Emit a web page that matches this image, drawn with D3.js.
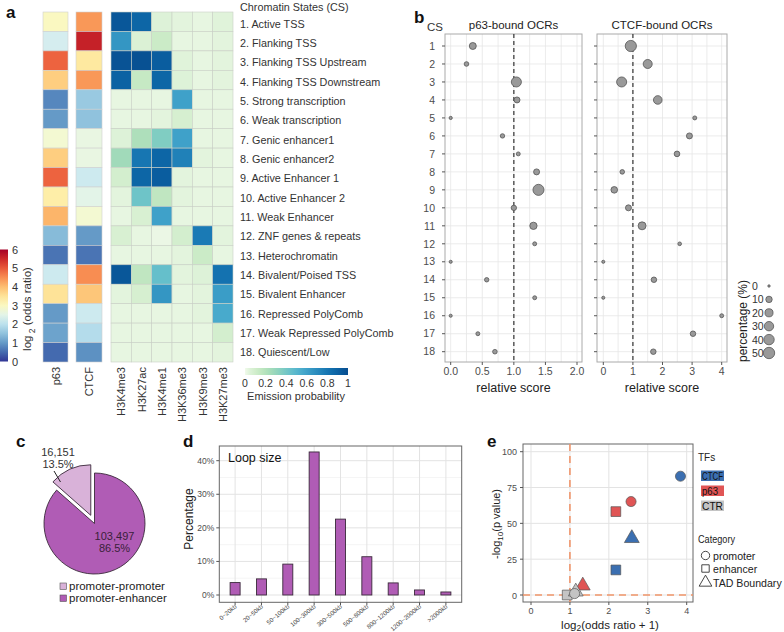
<!DOCTYPE html>
<html><head><meta charset="utf-8">
<script src="https://cdn.jsdelivr.net/npm/d3@7"></script>
<style>body{margin:0;background:#fff;} svg{font-family:"Liberation Sans",Arial,sans-serif;}</style>
</head><body><svg id="c" width="784" height="632"></svg>
<script>
// ---------- DATA ----------
// Panel a
const states = ["1. Active TSS","2. Flanking TSS","3. Flanking TSS Upstream","4. Flanking TSS Downstream",
 "5. Strong transcription","6. Weak transcription","7. Genic enhancer1","8. Genic enhancer2",
 "9. Active Enhancer 1","10. Active Enhancer 2","11. Weak Enhancer","12. ZNF genes & repeats",
 "13. Heterochromatin","14. Bivalent/Poised TSS","15. Bivalent Enhancer","16. Repressed PolyComb",
 "17. Weak Repressed PolyComb","18. Quiescent/Low"];
const oddsColumns = ["p63","CTCF"];
const p63Odds  = [3.0,2.3,4.9,3.8,0.8,1.0,2.8,3.8,4.9,3.3,4.1,1.4,0.6,2.2,3.5,1.0,1.1,0.5];
const ctcfOdds = [4.4,5.6,3.4,4.4,1.6,1.5,2.6,2.6,2.2,2.5,2.8,1.0,0.6,4.5,3.9,2.2,1.9,0.9];
const marks = ["H3K4me3","H3K27ac","H3K4me1","H3K36me3","H3K9me3","H3K27me3"];
const emission = [
 [0.95,0.88,0.05,0.03,0.02,0.04],
 [0.65,0.06,0.12,0.02,0.02,0.03],
 [0.97,0.98,0.92,0.04,0.02,0.03],
 [0.90,0.14,0.88,0.05,0.02,0.03],
 [0.02,0.02,0.02,0.60,0.02,0.02],
 [0.02,0.02,0.03,0.08,0.02,0.02],
 [0.05,0.22,0.36,0.60,0.02,0.02],
 [0.26,0.80,0.88,0.75,0.03,0.02],
 [0.09,0.88,0.92,0.03,0.02,0.02],
 [0.03,0.42,0.16,0.03,0.02,0.02],
 [0.02,0.07,0.60,0.02,0.02,0.02],
 [0.07,0.02,0.01,0.09,0.78,0.03],
 [0.02,0.02,0.02,0.03,0.12,0.02],
 [0.95,0.16,0.45,0.03,0.05,0.82],
 [0.03,0.08,0.65,0.02,0.03,0.62],
 [0.02,0.02,0.02,0.02,0.03,0.56],
 [0.02,0.02,0.02,0.02,0.02,0.09],
 [0.02,0.02,0.02,0.02,0.02,0.03]];
const oddsTicks = [0,1,2,3,4,5,6];
const emissionTicks = [0,0.2,0.4,0.6,0.8,1];

// Panel b
const csRows = d3.range(1,19);
const p63Score = [0.35,0.25,1.04,1.05,0.0,0.82,1.07,1.36,1.39,1.0,1.31,1.33,0.0,0.57,1.33,0.0,0.43,0.70];
const p63Pct   = [13,3,36,8,0.4,2.5,1.5,8,46,5.5,15,1.5,0.3,2.5,1.5,0.3,1.5,3];
const ctcfScore = [0.93,1.5,0.62,1.84,3.09,2.91,2.49,0.64,0.37,0.85,1.31,2.58,0.0,1.71,0.0,4.0,3.03,1.69];
const ctcfPct   = [48,27,36,24,1.6,8,6.5,3,11,8,19,1,0.3,6,0.3,1.5,6,6];
const p63Ticks = [0,0.5,1,1.5,2];
const ctcfTicks = [0,1,2,3,4];
const pctTicks = [0,10,20,30,40,50];

// Panel c
const loopTypes = ["promoter-promoter","promoter-enhancer"];
const loopCounts = [16151,103497];
const loopPctLabels = ["13.5%","86.5%"];

// Panel d
const sizeBins = ["0~20kb","20~50kb","50~100kb","100~300kb","300~500kb","500~800kb","800~1200kb","1200~2000kb",">2000kb"];
const sizePct = [3.7,4.8,9.2,42.6,22.6,11.4,3.6,1.5,0.9];
const pctAxisTicks = [0,10,20,30,40];

// Panel e
const tfNames = ["CTCF","p63","CTR"];
const catNames = ["promoter","enhancer","TAD Boundary"];
const enrTF  = ["CTCF","p63","p63","CTCF","CTCF","p63","CTR","CTR","CTR"];
const enrCat = ["promoter","promoter","enhancer","TAD Boundary","enhancer","TAD Boundary","enhancer","TAD Boundary","promoter"];
const enrX   = [3.84,2.57,2.18,2.59,2.18,1.33,0.93,1.15,1.12];
const enrY   = [82.9,65.2,58.2,39.6,17.5,6.5,0.0,2.3,1.0];
const eXTicks = [0,1,2,3,4];
const eYTicks = [0,25,50,75,100];

// ---------- DRAW ----------
const svg = d3.select("#c");
const defs = svg.append("defs");
function panelLabel(t,x,y){svg.append("text").attr("x",x).attr("y",y).attr("font-size",17).attr("font-weight","bold").attr("fill","#111").text(t);}

// ===== Panel a =====
panelLabel("a",6,18);
const rowY = d3.scaleBand().domain(d3.range(18)).range([12,362]);
const oddsColor = d3.scaleSequential(t=>d3.interpolateRdYlBu(1-t)).domain([0,6]);
const emisColor = d3.scaleSequentialPow(t=>d3.interpolateGnBu(0.03+0.93*t)).exponent(0.7).domain([0,1]);
const oddsX = d3.scaleOrdinal().domain(oddsColumns).range([[43,68],[76,102]]);
const oddsData = [p63Odds, ctcfOdds];
const ga = svg.append("g");
oddsColumns.forEach((col,ci)=>{
  const [x0,x1] = oddsX(col);
  ga.selectAll(null).data(oddsData[ci]).enter().append("rect")
    .attr("x",x0).attr("width",x1-x0)
    .attr("y",(d,i)=>rowY(i)).attr("height",rowY.bandwidth())
    .attr("fill",d=>oddsColor(d)).attr("stroke","#d0d0d0").attr("stroke-width",0.6);
  ga.append("text").attr("transform",`translate(${(x0+x1)/2+4},367) rotate(-90)`)
    .attr("text-anchor","end").attr("font-size",11).attr("fill","#333").text(col);
});
const emX = d3.scaleBand().domain(marks).range([111,233]);
emission.forEach((row,ri)=>{
  ga.selectAll(null).data(row).enter().append("rect")
    .attr("x",(d,i)=>emX(marks[i])).attr("width",emX.bandwidth())
    .attr("y",rowY(ri)).attr("height",rowY.bandwidth())
    .attr("fill",d=>emisColor(d)).attr("stroke","#c9cfc6").attr("stroke-width",0.6);
});
marks.forEach(m=>{
  ga.append("text").attr("transform",`translate(${emX(m)+emX.bandwidth()/2+4},367) rotate(-90)`)
    .attr("text-anchor","end").attr("font-size",11).attr("fill","#333").text(m);
});
const labY = d3.scaleLinear().domain([0,17]).range([24,352.5]);
ga.append("text").attr("x",240).attr("y",10.5).attr("font-size",10.8).attr("fill","#333").text("Chromatin States (CS)");
ga.selectAll(null).data(states).enter().append("text")
  .attr("x",240).attr("y",(d,i)=>labY(i)+3.8).attr("font-size",10.8).attr("fill","#333").text(d=>d);
const gOdds = defs.append("linearGradient").attr("id","gOdds").attr("x1",0).attr("y1",1).attr("x2",0).attr("y2",0);
d3.range(0,6.01,0.5).forEach(v=>gOdds.append("stop").attr("offset",v/6).attr("stop-color",oddsColor(v)));
const oddsBarY = d3.scaleLinear().domain([0,6]).range([361.5,249.5]);
ga.append("rect").attr("x",0).attr("y",oddsBarY(6)).attr("width",8).attr("height",oddsBarY(0)-oddsBarY(6)).attr("fill","url(#gOdds)");
ga.selectAll(null).data(oddsTicks).enter().append("text").attr("x",12).attr("y",d=>oddsBarY(d)+4)
  .attr("font-size",11).attr("fill","#333").text(d=>d);
const lt = ga.append("text").attr("transform","translate(31,309) rotate(-90)").attr("text-anchor","middle").attr("font-size",11.5).attr("fill","#333");
lt.append("tspan").text("log");
lt.append("tspan").attr("font-size",8.5).attr("dy",4).text(" 2");
lt.append("tspan").attr("dy",-4).text(" (odds ratio)");
const gEm = defs.append("linearGradient").attr("id","gEm");
d3.range(0,1.001,0.05).forEach(v=>gEm.append("stop").attr("offset",v).attr("stop-color",emisColor(v)));
const emBarX = d3.scaleLinear().domain([0,1]).range([245,348]);
ga.append("rect").attr("x",emBarX(0)).attr("y",368).attr("width",emBarX(1)-emBarX(0)).attr("height",7).attr("fill","url(#gEm)");
ga.selectAll(null).data(emissionTicks).enter().append("text").attr("x",d=>emBarX(d)).attr("y",387)
  .attr("text-anchor","middle").attr("font-size",10.5).attr("fill","#333").text(d=>d);
ga.append("text").attr("x",296).attr("y",400).attr("text-anchor","middle").attr("font-size",11).attr("fill","#333").text("Emission probability");

// ===== Panel b =====
svg.append("text").attr("x",414).attr("y",23).attr("font-size",17).attr("font-weight","bold").attr("fill","#111").text("b");
svg.append("text").attr("x",427).attr("y",31).attr("font-size",11.5).attr("fill","#333").text("CS");
const bTop=34, bBot=362;
const yB = d3.scaleLinear().domain([1,18]).range([46,351.7]);
const rB = d3.scaleSqrt().domain([0,50]).range([1.2,5.7]);
const facets = [
 {title:"p63-bound OCRs", x0:445, x1:582, x:d3.scaleLinear().domain([0,2]).range([450.7,577]), ticks:p63Ticks, step:0.25, fmt:d3.format(".1f"), score:p63Score, pct:p63Pct},
 {title:"CTCF-bound OCRs", x0:597, x1:727, x:d3.scaleLinear().domain([0,4]).range([603.3,721.7]), ticks:ctcfTicks, step:0.5, fmt:d3.format("d"), score:ctcfScore, pct:ctcfPct}
];
facets.forEach(f=>{
  const g = svg.append("g");
  g.append("rect").attr("x",f.x0).attr("y",bTop).attr("width",f.x1-f.x0).attr("height",bBot-bTop).attr("fill","#fff");
  const xmax = f.x.domain()[1];
  g.selectAll(null).data(d3.range(0,xmax+1e-9,f.step)).enter().append("line")
    .attr("x1",d=>f.x(d)).attr("x2",d=>f.x(d)).attr("y1",bTop).attr("y2",bBot).attr("stroke","#e6e6e6").attr("stroke-width",0.8);
  g.selectAll(null).data(csRows).enter().append("line")
    .attr("x1",f.x0).attr("x2",f.x1).attr("y1",d=>yB(d)).attr("y2",d=>yB(d)).attr("stroke","#e6e6e6").attr("stroke-width",0.8);
  g.append("rect").attr("x",f.x0).attr("y",bTop).attr("width",f.x1-f.x0).attr("height",bBot-bTop).attr("fill","none").attr("stroke","#aaa").attr("stroke-width",1);
  g.append("line").attr("x1",f.x(1)).attr("x2",f.x(1)).attr("y1",bTop).attr("y2",bBot).attr("stroke","#333").attr("stroke-width",1.2).attr("stroke-dasharray","4,3");
  const pts = csRows.map((r,i)=>({r, s:f.score[i], p:f.pct[i]})).sort((a,b)=>b.p-a.p);
  g.selectAll(null).data(pts).enter().append("circle")
    .attr("cx",d=>f.x(d.s)).attr("cy",d=>yB(d.r)).attr("r",d=>rB(d.p))
    .attr("fill","#999").attr("stroke","#555").attr("stroke-width",0.8);
  g.selectAll(null).data(csRows).enter().append("line")
    .attr("x1",f.x0-3).attr("x2",f.x0).attr("y1",d=>yB(d)).attr("y2",d=>yB(d)).attr("stroke","#555");
  g.selectAll(null).data(f.ticks).enter().append("line")
    .attr("x1",d=>f.x(d)).attr("x2",d=>f.x(d)).attr("y1",bBot).attr("y2",bBot+3).attr("stroke","#555");
  g.selectAll(null).data(f.ticks).enter().append("text").attr("x",d=>f.x(d)).attr("y",375)
    .attr("text-anchor","middle").attr("font-size",10.5).attr("fill","#4d4d4d").text(d=>f.fmt(d));
  g.append("text").attr("x",(f.x0+f.x1)/2).attr("y",29).attr("text-anchor","middle").attr("font-size",11.5).attr("fill","#222").text(f.title);
  g.append("text").attr("x",(f.x0+f.x1)/2).attr("y",392).attr("text-anchor","middle").attr("font-size",12.5).attr("fill","#222").text("relative score");
});
svg.selectAll(null).data(csRows).enter().append("text").attr("x",435).attr("y",d=>yB(d)+3.7)
  .attr("text-anchor","end").attr("font-size",10.5).attr("fill","#4d4d4d").text(d=>d);
const legY = d3.scaleLinear().domain([0,50]).range([286,353]);
svg.append("text").attr("transform","translate(747,321) rotate(-90)").attr("text-anchor","middle").attr("font-size",12).attr("fill","#222").text("percentage (%)");
svg.selectAll(null).data(pctTicks).enter().append("text").attr("x",752).attr("y",d=>legY(d)+4)
  .attr("font-size",10.5).attr("fill","#333").text(d=>d);
svg.selectAll(null).data(pctTicks).enter().append("circle").attr("cx",769).attr("cy",d=>legY(d)).attr("r",d=>rB(d))
  .attr("fill","#999").attr("stroke","#555").attr("stroke-width",0.8);

// ===== Panel c =====
panelLabel("c",16,447);
const pieFrac = loopCounts[0]/d3.sum(loopCounts);
const pie = d3.pie().sort(null).startAngle(-2*Math.PI*pieFrac).endAngle(2*Math.PI-2*Math.PI*pieFrac);
const arcs = pie(loopCounts);
const arc = d3.arc().innerRadius(0).outerRadius(50.5);
const pieColors = d3.scaleOrdinal().domain(loopTypes).range(["#d9b2d9","#b05cb5"]);
const pc = svg.append("g").attr("transform","translate(94.5,523.5)");
arcs.forEach((a,i)=>{
  const mid=(a.startAngle+a.endAngle)/2, off = i===0?9:0;
  pc.append("path").attr("d",arc(a)).attr("transform",`translate(${off*Math.sin(mid)},${-off*Math.cos(mid)})`)
    .attr("fill",pieColors(loopTypes[i])).attr("stroke","#3b2a3b").attr("stroke-width",0.9);
});
const fmtC = d3.format(",");
svg.append("text").attr("x",58).attr("y",456).attr("text-anchor","middle").attr("font-size",11).attr("fill","#333").text(fmtC(loopCounts[0]));
svg.append("text").attr("x",58).attr("y",467.5).attr("text-anchor","middle").attr("font-size",11).attr("fill","#333").text(loopPctLabels[0]);
svg.append("line").attr("x1",54).attr("y1",471).attr("x2",60.5).attr("y2",482).attr("stroke","#222").attr("stroke-width",1);
svg.append("text").attr("x",114.5).attr("y",539.5).attr("text-anchor","middle").attr("font-size",11).attr("fill","#3a1f3a").text(fmtC(loopCounts[1]));
svg.append("text").attr("x",114.5).attr("y",551.5).attr("text-anchor","middle").attr("font-size",11).attr("fill","#3a1f3a").text(loopPctLabels[1]);
const legC = d3.scaleBand().domain(loopTypes).range([580,604]);
loopTypes.forEach(t=>{
  svg.append("rect").attr("x",60).attr("y",legC(t)+3).attr("width",6.5).attr("height",6.5).attr("fill",pieColors(t)).attr("stroke","#555").attr("stroke-width",0.6);
  svg.append("text").attr("x",69).attr("y",legC(t)+10).attr("font-size",11.5).attr("fill","#222").text(t);
});

// ===== Panel d =====
panelLabel("d",183,447);
const dL=219.3, dR=461.7, dT=446, dB=602.3;
const xD = d3.scalePoint().domain(sizeBins).range([dL,dR]).padding(0.6);
const yD = d3.scaleLinear().domain([0,40]).range([595,460.7]);
const gd = svg.append("g");
gd.append("rect").attr("x",dL).attr("y",dT).attr("width",dR-dL).attr("height",dB-dT).attr("fill","#fff");
gd.selectAll(null).data([5,15,25,35]).enter().append("line").attr("x1",dL).attr("x2",dR).attr("y1",d=>yD(d)).attr("y2",d=>yD(d)).attr("stroke","#f2f2f2").attr("stroke-width",0.8);
gd.selectAll(null).data(pctAxisTicks).enter().append("line").attr("x1",dL).attr("x2",dR).attr("y1",d=>yD(d)).attr("y2",d=>yD(d)).attr("stroke","#e3e3e3").attr("stroke-width",1);
gd.selectAll(null).data(sizeBins).enter().append("line").attr("x1",d=>xD(d)).attr("x2",d=>xD(d)).attr("y1",dT).attr("y2",dB).attr("stroke","#e3e3e3").attr("stroke-width",1);
const bw = 10;
gd.selectAll(null).data(sizePct).enter().append("rect")
  .attr("x",(d,i)=>xD(sizeBins[i])-bw/2).attr("width",bw)
  .attr("y",d=>yD(d)).attr("height",d=>yD(0)-yD(d))
  .attr("fill","#b05cb5").attr("stroke","#3b2a3b").attr("stroke-width",0.9);
gd.append("rect").attr("x",dL).attr("y",dT).attr("width",dR-dL).attr("height",dB-dT).attr("fill","none").attr("stroke","#666").attr("stroke-width",1);
gd.selectAll(null).data(pctAxisTicks).enter().append("line").attr("x1",dL-3).attr("x2",dL).attr("y1",d=>yD(d)).attr("y2",d=>yD(d)).attr("stroke","#555");
gd.selectAll(null).data(pctAxisTicks).enter().append("text").attr("x",dL-5).attr("y",d=>yD(d)+3)
  .attr("text-anchor","end").attr("font-size",8.5).attr("fill","#4d4d4d").text(d=>d+"%");
gd.selectAll(null).data(sizeBins).enter().append("line").attr("x1",d=>xD(d)).attr("x2",d=>xD(d)).attr("y1",dB).attr("y2",dB+3).attr("stroke","#555");
gd.selectAll(null).data(sizeBins).enter().append("text")
  .attr("transform",d=>`translate(${xD(d)+2},${dB+5}) rotate(-40)`)
  .attr("text-anchor","end").attr("font-size",6.2).attr("fill","#4d4d4d").text(d=>d);
gd.append("text").attr("x",228).attr("y",462).attr("font-size",12.5).attr("fill","#111").text("Loop size");
gd.append("text").attr("transform","translate(193,519) rotate(-90)").attr("text-anchor","middle").attr("font-size",12).attr("fill","#222").text("Percentage");

// ===== Panel e =====
panelLabel("e",487,447);
const eL=523, eR=693, eT=444, eB=602;
const xE = d3.scaleLinear().domain([0,4]).range([531,686.7]);
const yE = d3.scaleLinear().domain([0,100]).range([595,451.7]);
const ge = svg.append("g");
ge.append("rect").attr("x",eL).attr("y",eT).attr("width",eR-eL).attr("height",eB-eT).attr("fill","#fff");
ge.selectAll(null).data(eXTicks).enter().append("line").attr("x1",d=>xE(d)).attr("x2",d=>xE(d)).attr("y1",eT).attr("y2",eB).attr("stroke","#e3e3e3");
ge.selectAll(null).data(eYTicks).enter().append("line").attr("x1",eL).attr("x2",eR).attr("y1",d=>yE(d)).attr("y2",d=>yE(d)).attr("stroke","#e3e3e3");
ge.append("rect").attr("x",eL).attr("y",eT).attr("width",eR-eL).attr("height",eB-eT).attr("fill","none").attr("stroke","#666");
const dashC = "#f0956a";
ge.append("line").attr("x1",xE(1)).attr("x2",xE(1)).attr("y1",eT).attr("y2",eB).attr("stroke",dashC).attr("stroke-width",1.6).attr("stroke-dasharray","7,5");
ge.append("line").attr("x1",eL).attr("x2",eR).attr("y1",yE(0)).attr("y2",yE(0)).attr("stroke",dashC).attr("stroke-width",1.6).attr("stroke-dasharray","7,5");
const tfColor = d3.scaleOrdinal().domain(tfNames).range(["#3b6fb1","#e05555","#c4c4c4"]);
const catSym = d3.scaleOrdinal().domain(catNames).range([d3.symbolCircle,d3.symbolSquare,d3.symbolTriangle]);
const catSize = d3.scaleOrdinal().domain(catNames).range([80,95,95]);
ge.selectAll(null).data(d3.range(enrX.length)).enter().append("path")
  .attr("transform",i=>`translate(${xE(enrX[i])},${yE(enrY[i])})`)
  .attr("d",i=>d3.symbol(catSym(enrCat[i]),catSize(enrCat[i]))())
  .attr("fill",i=>tfColor(enrTF[i])).attr("stroke","#555").attr("stroke-width",0.7);
ge.selectAll(null).data(eYTicks).enter().append("line").attr("x1",eL-3).attr("x2",eL).attr("y1",d=>yE(d)).attr("y2",d=>yE(d)).attr("stroke","#555");
ge.selectAll(null).data(eYTicks).enter().append("text").attr("x",517).attr("y",d=>yE(d)+3.5)
  .attr("text-anchor","end").attr("font-size",9).attr("fill","#4d4d4d").text(d=>d);
ge.selectAll(null).data(eXTicks).enter().append("line").attr("x1",d=>xE(d)).attr("x2",d=>xE(d)).attr("y1",eB).attr("y2",eB+3).attr("stroke","#555");
ge.selectAll(null).data(eXTicks).enter().append("text").attr("x",d=>xE(d)).attr("y",614)
  .attr("text-anchor","middle").attr("font-size",9).attr("fill","#4d4d4d").text(d=>d);
const ey = ge.append("text").attr("transform","translate(500,524) rotate(-90)").attr("text-anchor","middle").attr("font-size",11).attr("fill","#222");
ey.append("tspan").text("-log");
ey.append("tspan").attr("font-size",8).attr("dy",3).text("10");
ey.append("tspan").attr("dy",-3).text("(p value)");
const ex = ge.append("text").attr("x",610).attr("y",629).attr("text-anchor","middle").attr("font-size",11.5).attr("fill","#222");
ex.append("tspan").text("log");
ex.append("tspan").attr("font-size",8.5).attr("dy",1.5).text("2");
ex.append("tspan").attr("dy",-1.5).text("(odds ratio + 1)");
// legend
ge.append("text").attr("x",698).attr("y",461).attr("font-size",10).attr("fill","#222").text("TFs");
const tfLegY = d3.scaleBand().domain(tfNames).range([470.5,515.5]);
tfNames.forEach(t=>{
  ge.append("rect").attr("x",701).attr("y",tfLegY(t)).attr("width",23).attr("height",10.5).attr("fill",tfColor(t));
  ge.append("text").attr("x",702).attr("y",tfLegY(t)+9.5).attr("font-size",11.5)
    .attr("textLength",t==="p63"?16:21).attr("lengthAdjust","spacingAndGlyphs").attr("fill","#111").text(t);
});
ge.append("text").attr("x",698).attr("y",543).attr("font-size",11).attr("textLength",37).attr("lengthAdjust","spacingAndGlyphs").attr("fill","#222").text("Category");
const catLegY = d3.scaleOrdinal().domain(catNames).range([555.5,568.5,582.5]);
catNames.forEach(c=>{
  ge.append("path").attr("transform",`translate(705.5,${catLegY(c)})`).attr("d",d3.symbol(catSym(c),c==="TAD Boundary"?70:55)())
    .attr("fill","none").attr("stroke","#333").attr("stroke-width",0.9);
  ge.append("text").attr("x",713).attr("y",catLegY(c)+4.5).attr("font-size",10.6).attr("fill","#222").text(c);
});
</script></body></html>
